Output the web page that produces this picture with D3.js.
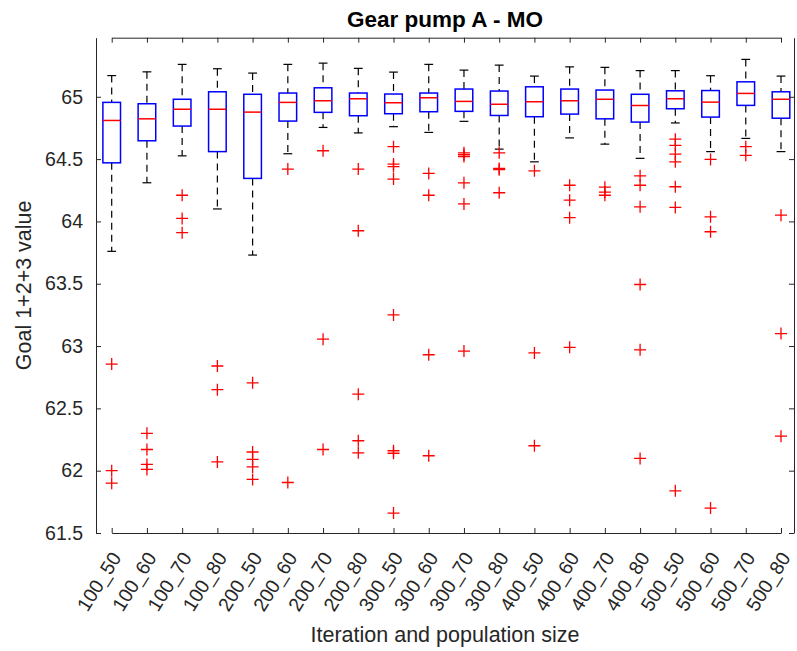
<!DOCTYPE html>
<html>
<head>
<meta charset="utf-8">
<script src="https://cdn.jsdelivr.net/npm/d3@7"></script>
<style>
  body { margin: 0; background: #fff; }
  text { font-family: "Liberation Sans", Arial, Helvetica, sans-serif; }
</style>
</head>
<body>
<div id="chart"></div>
<script>
const width = 797
const height = 651
const margin = {
  top: 37.7,
  bottom: 118,
  left: 96,
  right: 3,
}

// Datos
const categories = ["100_50", "100_60", "100_70", "100_80", "200_50", "200_60", "200_70", "200_80",
  "300_50", "300_60", "300_70", "300_80", "400_50", "400_60", "400_70", "400_80",
  "500_50", "500_60", "500_70", "500_80"]

const upperWhisker = [65.17, 65.20, 65.26, 65.225, 65.19, 65.26, 65.27, 65.228, 65.198, 65.26,
  65.214, 65.254, 65.166, 65.24, 65.236, 65.21, 65.21, 65.169, 65.30, 65.166]
const q3 = [64.955, 64.944, 64.98, 65.04, 65.02, 65.03, 65.072, 65.03, 65.022, 65.03,
  65.062, 65.046, 65.08, 65.062, 65.054, 65.02, 65.048, 65.05, 65.12, 65.04]
const medians = [64.81, 64.823, 64.90, 64.90, 64.877, 64.955, 64.968, 64.984, 64.952, 64.992,
  64.963, 64.94, 64.96, 64.968, 64.98, 64.93, 64.984, 64.957, 65.027, 64.98]
const q1 = [64.47, 64.647, 64.765, 64.56, 64.345, 64.805, 64.875, 64.848, 64.864, 64.88,
  64.883, 64.85, 64.84, 64.861, 64.823, 64.797, 64.904, 64.837, 64.931, 64.828]
const lowerWhisker = [63.76, 64.31, 64.526, 64.10, 63.73, 64.543, 64.754, 64.71, 64.76, 64.714,
  64.803, 64.58, 64.478, 64.67, 64.62, 64.506, 64.79, 64.56, 64.666, 64.56]
const outliers = [
  [62.855, 62.0, 61.9],
  [62.3, 62.17, 62.05, 62.01],
  [64.21, 64.024, 63.91],
  [62.84, 62.65, 62.07],
  [62.705, 62.15, 62.09, 62.03, 61.93],
  [64.42, 61.905],
  [64.567, 63.055, 62.17],
  [64.42, 63.925, 62.614, 62.24, 62.143],
  [64.6, 64.46, 64.44, 64.34, 63.25, 62.16, 62.14, 61.66],
  [64.385, 64.21, 62.93, 62.12],
  [64.55, 64.535, 64.52, 64.31, 64.14, 62.96],
  [64.55, 64.425, 64.415, 64.23],
  [64.406, 62.945, 62.2],
  [64.29, 64.17, 64.03, 62.99],
  [64.275, 64.235, 64.21],
  [64.366, 64.29, 64.117, 63.494, 62.97, 62.098],
  [64.66, 64.61, 64.54, 64.478, 64.278, 64.112, 61.838],
  [64.497, 64.037, 63.917, 61.70],
  [64.6, 64.53],
  [64.05, 63.1, 62.277],
]
const yTicks = [61.5, 62, 62.5, 63, 63.5, 64, 64.5, 65]

const innerW = width - margin.left - margin.right
const innerH = height - margin.top - margin.bottom
const axisColor = "#262626"

const svg = d3.select("#chart")
  .append("svg")
  .attr("width", width)
  .attr("height", height)

const elementGroup = svg.append("g")
  .attr("transform", `translate(${margin.left}, ${margin.top})`)

const axisGroup = svg.append("g")
  .attr("transform", `translate(${margin.left}, ${margin.top})`)

// Escalas
const x = d3.scalePoint().domain(categories).range([15.7, 685])
const y = d3.scaleLinear().domain([61.5, 65.474]).range([innerH, 0])
const step = x.step()

// Ejes (ticks hacia dentro como en Matlab)
const xAxis = d3.axisBottom(x).tickSizeInner(-5).tickSizeOuter(0)
const yAxis = d3.axisLeft(y).tickValues(yTicks).tickSizeInner(-5).tickSizeOuter(0).tickPadding(13).tickFormat(d3.format(""))
const topAxis = d3.axisTop(x).tickSizeInner(-5).tickSizeOuter(0).tickFormat("")
const rightAxis = d3.axisRight(y).tickValues(yTicks).tickSizeInner(-5).tickSizeOuter(0).tickFormat("")

const xAxisGroup = axisGroup.append("g").attr("transform", `translate(0, ${innerH})`).call(xAxis)
const yAxisGroup = axisGroup.append("g").call(yAxis)
axisGroup.append("g").call(topAxis)
axisGroup.append("g").attr("transform", `translate(${innerW}, 0)`).call(rightAxis)

axisGroup.selectAll("path.domain").attr("stroke", axisColor)
axisGroup.selectAll(".tick line").attr("stroke", axisColor)

yAxisGroup.selectAll("text")
  .attr("font-size", 19.5)
  .attr("fill", axisColor)

xAxisGroup.selectAll("text")
  .attr("font-size", 19.5)
  .attr("fill", axisColor)
  .attr("text-anchor", "end")
  .attr("x", 0).attr("y", 0).attr("dy", "0.35em")
  .attr("transform", "translate(4, 21) rotate(-58)")

// Cajas
const boxes = elementGroup.selectAll("g.box")
  .data(categories)
  .enter()
  .append("g")
  .attr("class", "box")
  .attr("transform", d => `translate(${x(d)}, 0)`)

// bigotes discontinuos
boxes.append("line")
  .attr("y1", (d, i) => y(upperWhisker[i])).attr("y2", (d, i) => y(q3[i]))
  .attr("stroke", "#000").attr("stroke-width", 1.2).attr("stroke-dasharray", "7,5")
boxes.append("line")
  .attr("y1", (d, i) => y(q1[i])).attr("y2", (d, i) => y(lowerWhisker[i]))
  .attr("stroke", "#000").attr("stroke-width", 1.2).attr("stroke-dasharray", "7,5")

// topes
boxes.append("line")
  .attr("x1", -step * 0.125).attr("x2", step * 0.125)
  .attr("y1", (d, i) => y(upperWhisker[i])).attr("y2", (d, i) => y(upperWhisker[i]))
  .attr("stroke", "#000").attr("stroke-width", 1.2)
boxes.append("line")
  .attr("x1", -step * 0.125).attr("x2", step * 0.125)
  .attr("y1", (d, i) => y(lowerWhisker[i])).attr("y2", (d, i) => y(lowerWhisker[i]))
  .attr("stroke", "#000").attr("stroke-width", 1.2)

boxes.append("rect")
  .attr("x", -step * 0.25)
  .attr("width", step * 0.5)
  .attr("y", (d, i) => y(q3[i]))
  .attr("height", (d, i) => y(q1[i]) - y(q3[i]))
  .attr("fill", "none")
  .attr("stroke", "#0000ff")
  .attr("stroke-width", 1.5)

boxes.append("line")
  .attr("x1", -step * 0.25).attr("x2", step * 0.25)
  .attr("y1", (d, i) => y(medians[i])).attr("y2", (d, i) => y(medians[i]))
  .attr("stroke", "#ff0000").attr("stroke-width", 1.5)

// outliers con cruces
boxes.each(function (d, i) {
  const g = d3.select(this)
  outliers[i].forEach(v => {
    g.append("path")
      .attr("d", `M-6,${y(v)}H6M0,${y(v) - 6}V${y(v) + 6}`)
      .attr("stroke", "#ff0000")
      .attr("stroke-width", 1.3)
  })
})

// Textos
svg.append("text")
  .attr("x", 445).attr("y", 27)
  .attr("text-anchor", "middle")
  .attr("font-size", 22.5)
  .attr("font-weight", "bold")
  .attr("fill", "#000")
  .text("Gear pump A - MO")

svg.append("text")
  .attr("transform", `translate(31, ${margin.top + innerH / 2}) rotate(-90)`)
  .attr("text-anchor", "middle")
  .attr("font-size", 21.5)
  .attr("fill", axisColor)
  .text("Goal 1+2+3 value")

svg.append("text")
  .attr("x", 445).attr("y", 642)
  .attr("text-anchor", "middle")
  .attr("font-size", 21.5)
  .attr("fill", axisColor)
  .text("Iteration and population size")
</script>
</body>
</html>
